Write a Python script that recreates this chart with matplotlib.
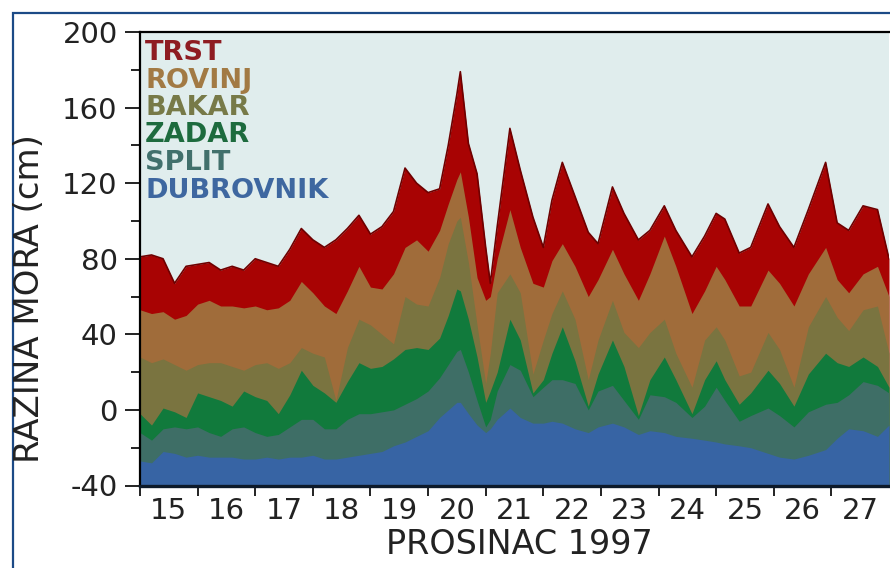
import matplotlib
matplotlib.use("Agg")
import matplotlib.pyplot as plt
from matplotlib.patches import Rectangle
from matplotlib.ticker import MultipleLocator, FixedLocator

# vrijeme (dani u prosincu 1997)
dani = [15.0, 15.2, 15.4, 15.6, 15.8, 16.0, 16.2, 16.4, 16.6, 16.8,
        17.0, 17.2, 17.4, 17.6, 17.8, 18.0, 18.2, 18.4, 18.6, 18.8,
        19.0, 19.2, 19.4, 19.6, 19.8, 20.0, 20.2, 20.35, 20.5, 20.56,
        20.7, 20.85, 21.0, 21.08, 21.2, 21.42, 21.6, 21.82, 22.0, 22.15,
        22.33, 22.55, 22.78, 22.95, 23.2, 23.4, 23.65, 23.85, 24.1, 24.3,
        24.58, 24.8, 25.0, 25.15, 25.4, 25.6, 25.9, 26.1, 26.35, 26.6,
        26.9, 27.1, 27.3, 27.55, 27.8, 28.0]

trst = [81, 82, 80, 67, 76, 77, 78, 74, 76, 74,
        80, 78, 76, 85, 96, 90, 86, 90, 96, 103,
        93, 97, 105, 128, 120, 115, 117, 140, 167, 179,
        141, 125, 86, 67, 97, 149, 127, 102, 86, 111,
        131, 113, 94, 88, 118, 104, 90, 95, 108, 95,
        81, 92, 104, 101, 83, 86, 109, 97, 86, 106,
        131, 99, 95, 108, 106, 80]

rovinj = [53, 51, 52, 48, 50, 56, 58, 55, 55, 54,
          55, 53, 54, 58, 68, 62, 55, 51, 63, 76,
          65, 64, 72, 86, 90, 84, 95, 109, 122, 126,
          102, 70, 58, 60, 80, 106, 86, 67, 65, 79,
          88, 76, 60, 69, 85, 72, 58, 72, 92, 76,
          51, 63, 76, 69, 55, 55, 74, 67, 55, 72,
          86, 69, 62, 72, 76, 60]

bakar = [28, 25, 27, 24, 21, 24, 25, 25, 23, 21,
         24, 25, 22, 25, 33, 30, 28, 5, 33, 48,
         45, 40, 35, 60, 56, 55, 70, 88, 100, 102,
         78, 45, 14, 30, 62, 72, 62, 19, 37, 51,
         63, 48, 16, 37, 58, 41, 33, 41, 48, 30,
         12, 37, 44, 37, 18, 20, 41, 32, 12, 44,
         60, 49, 42, 53, 55, 30]

zadar = [-2, -8, 1, -1, -4, 9, 7, 5, 2, 10,
         7, 5, -2, 8, 21, 13, 9, 4, 15, 25,
         22, 23, 27, 32, 33, 32, 38, 50, 64, 63,
         48, 28, 4, 10, 20, 48, 37, 9, 16, 30,
         44, 26, 2, 19, 37, 23, -3, 16, 28, 16,
         -2, 16, 26, 16, 3, 9, 21, 14, 2, 19,
         30, 25, 23, 28, 23, 12]

split = [-12, -16, -10, -9, -10, -9, -12, -14, -10, -9,
         -12, -14, -13, -9, -5, -5, -10, -10, -5, -2,
         -2, -1, 0, 3, 6, 10, 17, 24, 31, 32,
         20, 5, -9, -5, 10, 24, 21, 7, 12, 16,
         16, 14, 0, 10, 13, 5, -5, 8, 7, 4,
         -4, 2, 12, 5, -6, -3, 1, -3, -9, -1,
         3, 4, 8, 15, 13, 9]

dubrovnik = [-27, -28, -22, -23, -25, -24, -25, -25, -25, -26,
             -26, -25, -26, -25, -25, -24, -26, -26, -25, -24,
             -23, -22, -19, -17, -14, -11, -4, 0, 4, 4,
             -2, -8, -12, -10, -5, 1, -4, -7, -7, -6,
             -7, -10, -12, -9, -7, -9, -13, -11, -12, -14,
             -15, -16, -17, -18, -19, -20, -23, -25, -26, -24,
             -21, -15, -10, -11, -14, -8]

postaje = ["TRST", "ROVINJ", "BAKAR", "ZADAR", "SPLIT", "DUBROVNIK"]
serije = [trst, rovinj, bakar, zadar, split, dubrovnik]
boje = ["#a80303", "#a06c3a", "#7a7440", "#117a3c", "#3e6e66", "#3764a4"]
rubovi = ["#6e0000", None, None, None, None, None]
boje_teksta = ["#8e1c22", "#a27a44", "#777a48", "#1d6b3e", "#41706c", "#3e67a0"]

dan_oznake = [str(d) for d in range(15, 28)]

plt.rcParams["font.family"] = ["DejaVu Sans"]
plt.rcParams["axes.unicode_minus"] = False

W, H = 890, 568
fig = plt.figure(figsize=(W / 100, H / 100), dpi=100)
ax = fig.add_axes([140 / W, 1 - 485.5 / H, 749 / W, 453.5 / H])
ax.set_facecolor("#e0eded")

for vals, c, e in zip(serije, boje, rubovi):
    ax.fill_between(dani, -40, vals, color=c, lw=0)
    if e:
        ax.plot(dani, vals, color=e, lw=1.2)

ax.set_xlim(15, 28)
ax.set_ylim(-40, 200)

# y os
ax.yaxis.set_major_locator(MultipleLocator(40))
ax.yaxis.set_minor_locator(MultipleLocator(20))
ax.tick_params(axis="y", which="major", direction="out", length=11, width=1.4,
               pad=5, labelsize=21, colors="#222222")
ax.tick_params(axis="y", which="minor", direction="out", length=6.5, width=1.4,
               colors="#222222")

# x os: crtice na granicama dana, oznake u sredini dana
ax.xaxis.set_major_locator(FixedLocator(range(15, 28)))
ax.xaxis.set_minor_locator(FixedLocator([d + 0.5 for d in range(15, 28)]))
ax.xaxis.set_major_formatter(plt.NullFormatter())
ax.set_xticklabels(dan_oznake, minor=True)
ax.tick_params(axis="x", which="major", direction="out", length=7.5, width=1.4,
               colors="#222222")
ax.tick_params(axis="x", which="minor", length=0, pad=8.5, labelsize=21,
               labelcolor="#222222")

for side in ["left", "top"]:
    ax.spines[side].set_linewidth(1.6)
ax.spines["bottom"].set_linewidth(2.4)
ax.spines["bottom"].set_color("#0d1a2a")
ax.spines["right"].set_visible(False)

# natpisi postaja
for i, (ime, c) in enumerate(zip(postaje, boje_teksta)):
    yb = 60 + 27.5 * i
    ax.text(5 / 749, (485.5 - yb) / 453.5, ime, transform=ax.transAxes,
            color=c, fontsize=19.5, fontweight="bold", ha="left", va="baseline")

fig.text(519 / W, 1 - 544 / H, "PROSINAC 1997", fontsize=24, color="#222222",
         ha="center", va="center")
fig.text(30 / W, 1 - 299 / H, "RAZINA MORA (cm)", fontsize=24.5, color="#222222",
         rotation=90, ha="center", va="center")

# okvir slike
fig.patches.append(Rectangle((12.5 / W, -0.2), 1.2, 1.2 - 13 / H,
                             transform=fig.transFigure, fill=False,
                             edgecolor="#1c4a86", lw=1.6))

fig.savefig("out.png", dpi=100)
